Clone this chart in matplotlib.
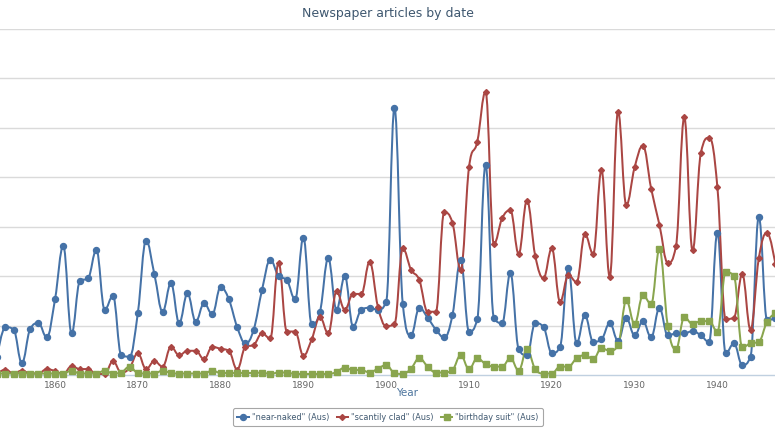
import matplotlib
matplotlib.use('Agg')
import matplotlib.pyplot as plt
from matplotlib.path import Path
from matplotlib.patches import PathPatch
from matplotlib.lines import Line2D
import numpy as np

years = list(range(1853, 1948))

near_naked = [0.37, 0.97, 0.92, 0.24, 0.93, 1.05, 0.76, 1.53, 2.61, 0.84,
              1.90, 1.96, 2.53, 1.32, 1.60, 0.40, 0.37, 1.25, 2.72, 2.04,
              1.28, 1.86, 1.05, 1.65, 1.08, 1.45, 1.23, 1.78, 1.53, 0.97,
              0.64, 0.92, 1.72, 2.33, 2.00, 1.92, 1.53, 2.78, 1.03, 1.28,
              2.36, 1.32, 2.00, 0.98, 1.32, 1.36, 1.32, 1.48, 5.40, 1.44,
              0.80, 1.36, 1.16, 0.92, 0.76, 1.21, 2.33, 0.88, 1.13, 4.25,
              1.16, 1.05, 2.06, 0.52, 0.40, 1.05, 0.97, 0.44, 0.57, 2.16,
              0.64, 1.21, 0.67, 0.72, 1.05, 0.69, 1.15, 0.80, 1.09, 0.76,
              1.36, 0.80, 0.84, 0.84, 0.89, 0.80, 0.67, 2.88, 0.44, 0.64,
              0.20, 0.37, 3.20, 1.11, 1.15]

scantily_clad = [0.02, 0.11, 0.03, 0.09, 0.03, 0.03, 0.12, 0.08, 0.02, 0.18,
                 0.12, 0.12, 0.02, 0.02, 0.28, 0.05, 0.14, 0.44, 0.12, 0.28,
                 0.17, 0.57, 0.40, 0.49, 0.49, 0.32, 0.57, 0.53, 0.49, 0.11,
                 0.57, 0.61, 0.84, 0.74, 2.27, 0.88, 0.88, 0.39, 0.72, 1.17,
                 0.84, 1.69, 1.32, 1.64, 1.64, 2.29, 1.38, 0.99, 1.03, 2.56,
                 2.13, 1.92, 1.28, 1.28, 3.29, 3.08, 2.13, 4.20, 4.72, 5.73,
                 2.65, 3.17, 3.33, 2.45, 3.53, 2.41, 1.96, 2.56, 1.48, 2.02,
                 1.88, 2.85, 2.45, 4.14, 1.99, 5.33, 3.44, 4.20, 4.64, 3.77,
                 3.04, 2.27, 2.61, 5.21, 2.52, 4.49, 4.80, 3.80, 1.13, 1.16,
                 2.04, 0.92, 2.36, 2.88, 2.24]

birthday_suit = [0.03, 0.03, 0.03, 0.03, 0.03, 0.03, 0.03, 0.03, 0.03, 0.09,
                 0.03, 0.03, 0.03, 0.09, 0.03, 0.05, 0.17, 0.04, 0.03, 0.03,
                 0.09, 0.04, 0.03, 0.03, 0.03, 0.03, 0.09, 0.04, 0.04, 0.04,
                 0.04, 0.04, 0.05, 0.02, 0.05, 0.05, 0.02, 0.02, 0.02, 0.02,
                 0.02, 0.06, 0.15, 0.10, 0.10, 0.05, 0.13, 0.20, 0.04, 0.02,
                 0.13, 0.34, 0.17, 0.05, 0.05, 0.10, 0.40, 0.12, 0.34, 0.22,
                 0.17, 0.17, 0.34, 0.09, 0.52, 0.12, 0.03, 0.03, 0.17, 0.17,
                 0.34, 0.40, 0.32, 0.54, 0.49, 0.60, 1.51, 1.03, 1.61, 1.44,
                 2.54, 1.00, 0.52, 1.17, 1.03, 1.09, 1.09, 0.88, 2.08, 2.00,
                 0.56, 0.64, 0.67, 1.08, 1.25]

labels = ['"near-naked" (Aus)', '"scantily clad" (Aus)', '"birthday suit" (Aus)']
colors = ['#4572A7', '#AA4643', '#89A54E']
markers = ['o', 'D', 's']
msizes = [4.3, 3.0, 3.7]
xticks = [1860, 1870, 1880, 1890, 1900, 1910, 1920, 1930, 1940]


def spline_path(xs, ys, smoothing=1.5):
    # highcharts style spline: bezier control points from neighbours
    denom = smoothing + 1
    n = len(xs)
    right = [None] * n
    verts = [(xs[0], ys[0])]
    codes = [Path.MOVETO]
    for i in range(1, n):
        x, y = xs[i], ys[i]
        lx, ly = x, y
        if i < n - 1:
            px, py = xs[i - 1], ys[i - 1]
            nx, ny = xs[i + 1], ys[i + 1]
            lx = (smoothing * x + px) / denom
            ly = (smoothing * y + py) / denom
            rx = (smoothing * x + nx) / denom
            ry = (smoothing * y + ny) / denom
            corr = (ry - ly) * (rx - x) / (rx - lx) + y - ry
            ly += corr
            ry += corr
            if ly > py and ly > y:
                ly = max(py, y)
                ry = 2 * y - ly
            elif ly < py and ly < y:
                ly = min(py, y)
                ry = 2 * y - ly
            if ry > ny and ry > y:
                ry = max(ny, y)
                ly = 2 * y - ry
            elif ry < ny and ry < y:
                ry = min(ny, y)
                ly = 2 * y - ry
            right[i] = (rx, ry)
        c1 = right[i - 1] if right[i - 1] is not None else (xs[i - 1], ys[i - 1])
        verts += [c1, (lx, ly), (x, y)]
        codes += [Path.CURVE4] * 3
    return Path(verts, codes)


fig = plt.figure(figsize=(7.75, 4.36), dpi=100)
ax = fig.add_axes([0, 1 - 375 / 436, 1, (375 - 29) / 436])

series = [near_naked, scantily_clad, birthday_suit]
for vals, col, mk, ms in zip(series, colors, markers, msizes):
    ax.add_patch(PathPatch(spline_path(years, vals), fill=False, edgecolor=col,
                           lw=1.45, zorder=3, capstyle='round', joinstyle='round'))
    ax.plot(years, vals, ls='none', marker=mk, ms=ms, color=col, mec=col,
            zorder=4, clip_on=False)

ax.set_xlim(1853.357, 1946.957)
ax.set_ylim(0, 7)
ax.set_yticks(range(1, 8))
ax.yaxis.grid(True, color='#DADADA', lw=1.0)
ax.set_axisbelow(True)
ax.tick_params(axis='y', left=False, labelleft=False)
ax.set_xticks(xticks)
ax.tick_params(axis='x', length=0, pad=4, labelsize=6.5, labelcolor='#666666')
for s in ['top', 'left', 'right']:
    ax.spines[s].set_visible(False)
ax.spines['bottom'].set_color('#C0D0E0')
ax.spines['bottom'].set_linewidth(1.0)

fig.text(0.5, 1 - 13 / 436, 'Newspaper articles by date', ha='center', va='center',
         fontsize=9, color='#3E576F')
fig.text(407 / 775, 1 - 393 / 436, 'Year', ha='center', va='center',
         fontsize=7.5, color='#4D759E')

handles = [Line2D([0], [0], color=c, marker=m, ms=s, lw=1.45)
           for c, m, s in zip(colors, markers, msizes)]
leg = fig.legend(handles, labels, loc='center', bbox_to_anchor=(388 / 775, 1 - 417 / 436),
                 ncol=3, fontsize=5.9, frameon=True, fancybox=True, handlelength=1.4,
                 handletextpad=0.35, columnspacing=0.9, borderpad=0.5)
leg.get_frame().set_edgecolor('#909090')
leg.get_frame().set_linewidth(0.8)
for t in leg.get_texts():
    t.set_color('#3E576F')

fig.savefig('out.png', dpi=100)
